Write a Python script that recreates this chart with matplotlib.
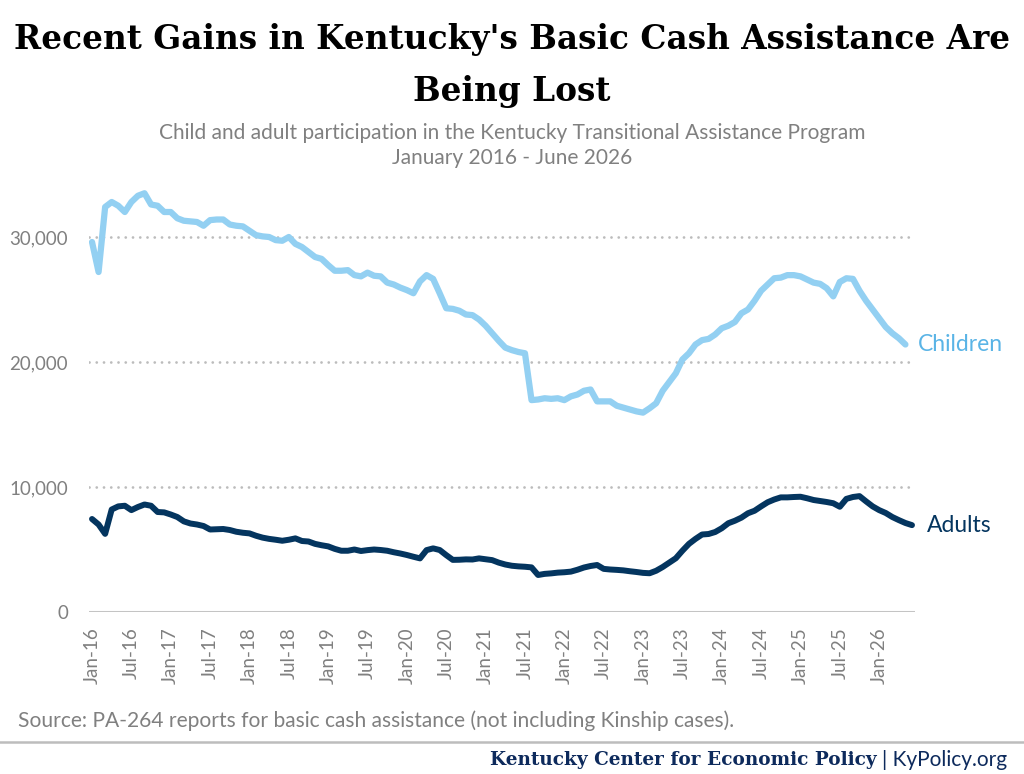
import matplotlib
matplotlib.use("Agg")
import matplotlib.pyplot as plt
import numpy as np

# monthly values, Jan-16 onwards (children series ends one month before adults)
children = [29600, 27200, 32400, 32800, 32500, 32000, 32800, 33300, 33500, 32600,
            32500, 32000, 32000, 31500, 31300, 31250, 31200, 30900, 31350, 31400,
            31400, 31000, 30900, 30850, 30500, 30150, 30050, 30000, 29750, 29700,
            30000, 29450, 29200, 28800, 28400, 28250, 27750, 27300, 27300, 27350,
            26950, 26850, 27150, 26900, 26850, 26350, 26200, 25950, 25750, 25500,
            26450, 26950, 26650, 25500, 24300, 24250, 24100, 23800, 23750, 23400,
            22900, 22300, 21700, 21150, 20950, 20800, 20700, 16950, 17000, 17100,
            17050, 17100, 16950, 17250, 17400, 17700, 17800, 16850, 16850, 16850,
            16500, 16350, 16200, 16050, 15950, 16300, 16700, 17700, 18400, 19100,
            20200, 20700, 21400, 21750, 21850, 22200, 22700, 22900, 23200, 23900,
            24200, 24900, 25700, 26200, 26700, 26750, 26950, 26950, 26850, 26600,
            26350, 26250, 25900, 25250, 26400, 26700, 26650, 25700, 24900, 24200,
            23500, 22800, 22300, 21900, 21400]

adults = [7440, 7000, 6250, 8200, 8450, 8500, 8150, 8400, 8600, 8500,
          8000, 7970, 7800, 7600, 7250, 7080, 7000, 6880, 6600, 6620,
          6640, 6560, 6420, 6340, 6290, 6100, 5950, 5850, 5780, 5700,
          5780, 5890, 5680, 5640, 5450, 5340, 5250, 5050, 4900, 4900,
          5000, 4880, 4950, 5000, 4960, 4900, 4780, 4680, 4560, 4420,
          4290, 4950, 5090, 4960, 4550, 4170, 4180, 4210, 4200, 4290,
          4220, 4150, 3950, 3800, 3700, 3650, 3620, 3570, 2960, 3050,
          3090, 3150, 3180, 3230, 3380, 3560, 3680, 3760, 3450, 3400,
          3370, 3330, 3260, 3200, 3130, 3100, 3300, 3600, 3950, 4300,
          4900, 5450, 5850, 6200, 6240, 6400, 6700, 7100, 7300, 7550,
          7900, 8100, 8450, 8780, 9000, 9170, 9170, 9200, 9220, 9100,
          8960, 8880, 8800, 8700, 8420, 9050, 9200, 9270, 8850, 8450,
          8150, 7920, 7600, 7350, 7120, 6950]

tick_labels = ["Jan-16", "Jul-16", "Jan-17", "Jul-17", "Jan-18", "Jul-18",
               "Jan-19", "Jul-19", "Jan-20", "Jul-20", "Jan-21", "Jul-21",
               "Jan-22", "Jul-22", "Jan-23", "Jul-23", "Jan-24", "Jul-24",
               "Jan-25", "Jul-25", "Jan-26"]
y_ticks = [0, 10000, 20000, 30000]

CHILD_COLOR = "#93d0f2"
CHILD_TEXT = "#5ab4e6"
ADULT_COLOR = "#04355f"
GRAY = "#808080"

W, H = 1024, 774
fig = plt.figure(figsize=(W / 100, H / 100), dpi=100)

def px(x, y):
    return x / W, 1 - y / H

# axes in pixel terms: left 89, right 915, top 174.5, bottom 612
ax = fig.add_axes([89 / W, 1 - 612 / H, (915 - 89) / W, (612 - 174.5) / H])
ax.set_xlim(-0.46, 125.46)
ax.set_ylim(0, 35000)

x_child = np.arange(len(children))
x_adult = np.arange(len(adults))
ax.plot(x_child, children, color=CHILD_COLOR, lw=4.5, solid_capstyle="round",
        solid_joinstyle="round", zorder=3)
ax.plot(x_adult, adults, color=ADULT_COLOR, lw=4.3, solid_capstyle="round",
        solid_joinstyle="round", zorder=3)

for v in y_ticks[1:]:
    ax.axhline(v, color="#bcbcbc", lw=2.0, ls=(0, (0.01, 2.6)), dash_capstyle="round", zorder=1)
ax.axhline(0, color="#c4c4c4", lw=2.2, zorder=2)

for s in ax.spines.values():
    s.set_visible(False)

ax.set_yticks(y_ticks)
ax.set_yticklabels([f"{v:,}" for v in y_ticks], fontfamily="Lato", fontsize=13.5, color=GRAY)
ax.set_xticks(np.arange(0, 6 * len(tick_labels), 6))
ax.set_xticklabels(tick_labels, rotation=90, fontfamily="Lato", fontsize=13.5, color=GRAY)
ax.tick_params(axis="both", length=0)
ax.tick_params(axis="y", pad=15)
ax.tick_params(axis="x", pad=11)

ax.text(len(children) - 1 + 1.9, children[-1], "Children", color=CHILD_TEXT,
        fontfamily="Lato", fontsize=16.5, va="center", ha="left")
ax.text(len(adults) - 1 + 2.3, adults[-1], "Adults", color=ADULT_COLOR,
        fontfamily="Lato", fontsize=16.5, va="center", ha="left")

# title and subtitle
fig.text(*px(512, 40), "Recent Gains in Kentucky's Basic Cash Assistance Are",
         ha="center", va="center", fontfamily="DejaVu Serif", fontweight="bold", fontsize=23.6)
fig.text(*px(512, 92), "Being Lost",
         ha="center", va="center", fontfamily="DejaVu Serif", fontweight="bold", fontsize=23.6)
fig.text(*px(512, 133), "Child and adult participation in the Kentucky Transitional Assistance Program",
         ha="center", va="center", fontfamily="Lato", fontsize=15, color=GRAY)
fig.text(*px(512, 158), "January 2016 - June 2026",
         ha="center", va="center", fontfamily="Lato", fontsize=15, color=GRAY)

# source, rule and footer
fig.text(*px(18, 721), "Source: PA-264 reports for basic cash assistance (not including Kinship cases).",
         ha="left", va="center", fontfamily="Lato", fontsize=15.1, color=GRAY)
fig.add_artist(plt.Line2D([0, 1], [1 - 742 / H, 1 - 742 / H], color="#bdbdbd", lw=1.8,
                          transform=fig.transFigure))
fig.text(*px(877, 760), "Kentucky Center for Economic Policy", ha="right", va="center",
         fontfamily="DejaVu Serif", fontweight="bold", fontsize=13.3, color="#0d2a5c")
fig.text(*px(882, 760), "| KyPolicy.org", ha="left", va="center",
         fontfamily="Lato", fontsize=15, color="#0d2a5c")

fig.savefig("out.png", dpi=100)
